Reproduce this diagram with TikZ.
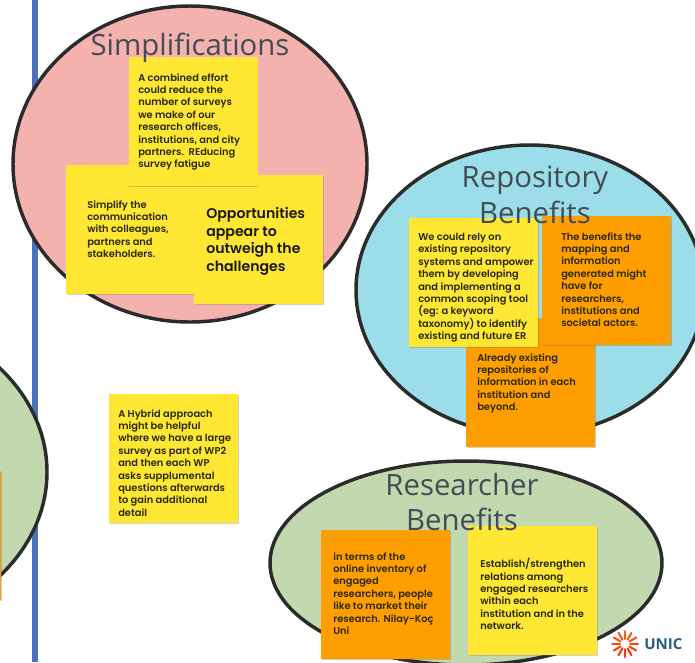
\documentclass[tikz,border=0pt]{standalone}
\usepackage{fontspec}
\setmainfont{Poppins}[BoldFont={Poppins SemiBold}]
\newfontfamily\titlefont{Open Sans}
\newfontfamily\logofont{Open Sans}
\usetikzlibrary{shadows}
\definecolor{pinkfill}{HTML}{F4B2AE}
\definecolor{bluefill}{HTML}{9BDDE8}
\definecolor{greenfill}{HTML}{C2D9B0}
\definecolor{outline}{HTML}{2B2B2B}
\definecolor{railblue}{HTML}{4A72B8}
\definecolor{stickyyellow}{HTML}{FFE733}
\definecolor{stickyorange}{HTML}{FF9E00}
\definecolor{titlegrey}{HTML}{434B54}
\definecolor{notetext}{HTML}{2A2A10}
\definecolor{logoblue}{HTML}{2A5D7C}
\definecolor{logoorange}{HTML}{E8743B}
\tikzset{
  x=0.75pt,y=-0.75pt,
  blob/.style={draw=outline,line width=2.6pt},
  sticky/.style={minimum width=96.75pt,minimum height=96.75pt,inner sep=0pt,
    drop shadow={shadow xshift=0.4pt,shadow yshift=-1.1pt,opacity=0.3,fill=black!60}},
  yellownote/.style={sticky,fill=stickyyellow},
  orangenote/.style={sticky,fill=stickyorange},
  notetxt/.style={anchor=north west,inner sep=0pt,align=left,text=notetext,
    font=\fontsize{7.4pt}{9.3pt}\selectfont\bfseries},
  bigtxt/.style={notetxt,text=black!90,font=\fontsize{10.6pt}{13.3pt}\selectfont\bfseries},
  titletxt/.style={inner sep=0pt,align=center,text=titlegrey,
    font=\titlefont\fontsize{22pt}{26.5pt}\selectfont},
}
\begin{document}
\begin{tikzpicture}
\useasboundingbox (0,0) rectangle (695,662);
\fill[white] (0,0) rectangle (695,662);
\begin{scope}
\clip (0,0) rectangle (695,662);
\fill[railblue] (32,0) rectangle (38,662);
\draw[blob,fill=greenfill] (-150,472) ellipse [x radius=197, y radius=160];
\draw[blob,fill=pinkfill] (190,164) ellipse [x radius=177, y radius=158];
\draw[blob,fill=bluefill] (530,290) ellipse [x radius=174, y radius=145];
\draw[blob,fill=greenfill] (466,563) ellipse [x radius=196, y radius=102];
% logo
\foreach \a/\c in {0/35,30/30,60/25,90/20,120/20,150/30,180/45,210/55,240/60,270/65,300/60,330/50}{
  \draw[line width=1.5pt,line cap=round,color=logoorange!\c!red!70!orange] (625,644)++(\a:5) -- ++(\a:8);
}
\node[anchor=west,inner sep=0pt,text=logoblue,font=\logofont\bfseries\fontsize{11.3pt}{13pt}\selectfont] (logo) at (644,644) {UNIC};
% stickies
\node[orangenote] (edge) at (-63.5,535.5) {};
\node[yellownote] (simplify) at (130.5,229.5) {};
\node[yellownote] (opps) at (258.5,239.5) {};
\node[yellownote] (combined) at (193,121.5) {};
\node[yellownote] (hybrid) at (173.5,458.5) {};
\node[orangenote] (existing) at (530.5,382.5) {};
\node[yellownote] (rely) at (473.5,282.5) {};
\node[orangenote] (mapping) at (606.5,280) {};
\node[orangenote] (inventory) at (385.5,594.5) {};
\node[yellownote] (relations) at (532.5,590.5) {};
% note texts
\node[notetxt] (t1) at (138,73) {A combined effort\\could reduce the\\number of surveys\\we make of our\\research offices,\\institutions, and city\\partners.\ \ REducing\\survey fatigue};
\node[notetxt] (t2) at (87,200) {Simplify the\\communication\\with colleagues,\\partners and\\stakeholders.};
\node[bigtxt] (t3) at (206,207) {Opportunities\\appear to\\outweigh the\\challenges};
\node[notetxt] (t4) at (118,409) {A Hybrid approach\\might be helpful\\where we have a large\\survey as part of WP2\\and then each WP\\asks supplumental\\questions afterwards\\to gain additional\\detail};
\node[notetxt] (t5) at (418,233) {We could rely on\\existing repository\\systems and ampower\\them by developing\\and implementing a\\common scoping tool\\(eg: a keyword\\taxonomy) to identify\\existing and future ER};
\node[notetxt] (t6) at (561,232) {The benefits the\\mapping and\\information\\generated might\\have for\\researchers,\\institutions and\\societal actors.};
\node[notetxt] (t7) at (477,353) {Already existing\\repositories of\\information in each\\institution and\\beyond.};
\node[notetxt] (t8) at (333,552) {in terms of the\\online inventory of\\engaged\\researchers, people\\like to market their\\research. Nilay-Koç\\Uni};
\node[notetxt] (t9) at (480,558) {Establish/strengthen\\relations among\\engaged researchers\\within each\\institution and in the\\network.};
% titles
\node[titletxt] (tSimp) at (190,47.5) {Simplifications};
\node[titletxt] (tRepo) at (535,195) {Repository\\Benefits};
\node[titletxt] (tRes) at (462,502) {Researcher\\Benefits};
\end{scope}
\end{tikzpicture}
\end{document}
